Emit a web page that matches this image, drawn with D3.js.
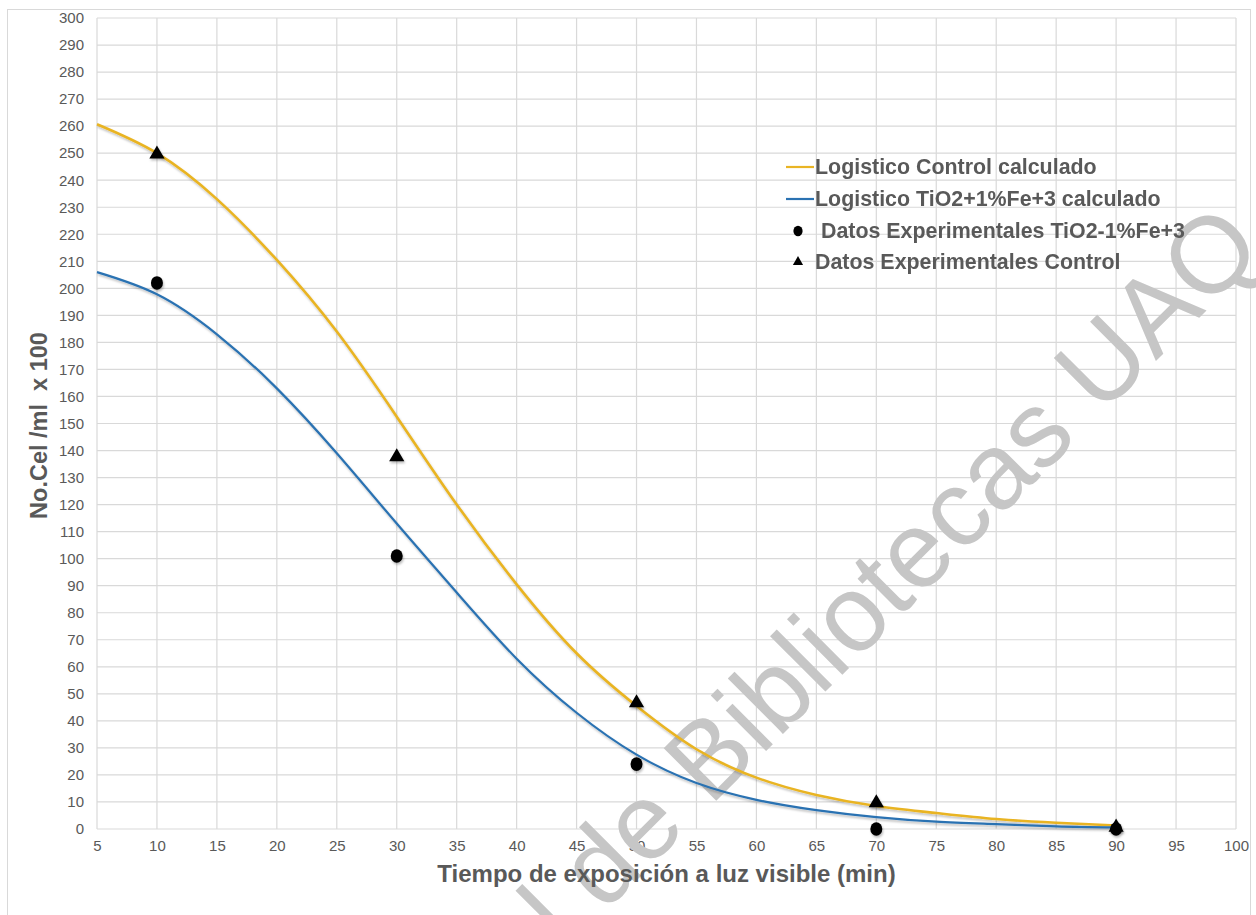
<!DOCTYPE html>
<html>
<head>
<meta charset="utf-8">
<script src="https://cdn.jsdelivr.net/npm/d3@7"></script>
<style>
  body { margin: 0; background: #fff; }
  svg { display: block; font-family: "Liberation Sans", Arial, sans-serif; }
  .tick text { fill: #595959; font-size: 15px; }
  .title { fill: #595959; font-weight: bold; }
  .legend text { fill: #595959; font-weight: bold; font-size: 21.4px; white-space: pre; }
</style>
</head>
<body>
<script>
var curveT = [5, 10, 15, 20, 25, 30, 35, 40, 45, 50, 55, 60, 65, 70, 75, 80, 85, 90];
var controlCalc = [260.7, 250, 233, 210.5, 184, 152.5, 120, 90.5, 65, 45.5, 29.5, 19, 12.6, 8.5, 5.9, 3.7, 2.3, 1.3];
var tioCalc = [206, 197.8, 183, 163, 139, 113, 87.5, 63, 43, 27.5, 17, 10.8, 7, 4.4, 2.7, 1.8, 1.0, 0.6];

// experimental points
var expT = [10, 30, 50, 70, 90];
var controlExp = [250, 138, 47, 10, 1];
var tioExp = [202, 101, 24, 0, 0];

var xTicks = d3.range(5, 101, 5);
var yTicks = d3.range(0, 301, 10);

var legendLabels = ["Logistico Control calculado", "Logistico TiO2+1%Fe+3 calculado",
  " Datos Experimentales TiO2-1%Fe+3", "Datos Experimentales Control"];

var width = 1256, height = 915;
var yellow = "#e9b424", blue = "#2a72b2";

var svg = d3.select("body").append("svg")
    .attr("width", width)
    .attr("height", height);

var defs = svg.append("defs");
var shadow = defs.append("filter").attr("id", "shadow")
    .attr("x", "-20%").attr("y", "-20%").attr("width", "140%").attr("height", "140%");
shadow.append("feDropShadow")
    .attr("dx", 1).attr("dy", 2).attr("stdDeviation", 1.2)
    .attr("flood-color", "#000").attr("flood-opacity", 0.25);

// chart border
svg.append("rect")
    .attr("x", 7.5).attr("y", 9.5)
    .attr("width", 1243).attr("height", 940)
    .attr("fill", "none").attr("stroke", "#d9d9d9");

var x = d3.scaleLinear().domain([5, 100]).range([97, 1236]);
var y = d3.scaleLinear().domain([0, 300]).range([829, 18]);

// grid
svg.append("g").attr("class", "grid")
  .selectAll("line").data(xTicks).enter().append("line")
    .attr("x1", d => x(d)).attr("x2", d => x(d))
    .attr("y1", y(0)).attr("y2", y(300))
    .attr("stroke", "#d9d9d9").attr("stroke-width", 1.2);

svg.append("g").attr("class", "grid")
  .selectAll("line").data(yTicks).enter().append("line")
    .attr("x1", x(5)).attr("x2", x(100))
    .attr("y1", d => y(d)).attr("y2", d => y(d))
    .attr("stroke", "#d9d9d9").attr("stroke-width", 1.2);

var xAxis = g => g
  .attr("transform", `translate(0,${y(0)})`)
  .call(d3.axisBottom(x).tickValues(xTicks).tickSize(0).tickPadding(11))
  .call(g => g.select(".domain").remove());

var yAxis = g => g
  .attr("transform", `translate(${x(5)},0)`)
  .call(d3.axisLeft(y).tickValues(yTicks).tickSize(0).tickPadding(13))
  .call(g => g.select(".domain").remove());

svg.append("g").call(xAxis).selectAll("text").attr("font-family", null);
svg.append("g").call(yAxis).selectAll("text").attr("font-family", null);

// watermark
svg.append("text")
    .attr("transform", "translate(1266,251) rotate(-45)")
    .attr("text-anchor", "end")
    .attr("font-size", 108)
    .attr("fill", "#c6c6c6")
    .text("Dirección General de Bibliotecas UAQ");

var line = d3.line()
    .x((d, i) => x(curveT[i]))
    .y(d => y(d))
    .curve(d3.curveNatural);

svg.append("path").datum(controlCalc)
    .attr("d", line)
    .attr("fill", "none").attr("stroke", yellow).attr("stroke-width", 2.6)
    .attr("filter", "url(#shadow)");

svg.append("path").datum(tioCalc)
    .attr("d", line)
    .attr("fill", "none").attr("stroke", blue).attr("stroke-width", 2.2)
    .attr("filter", "url(#shadow)");

var tri = d3.symbol().type(d3.symbolTriangle).size(100);

svg.append("g").attr("filter", "url(#shadow)")
  .selectAll("ellipse").data(tioExp).enter().append("ellipse")
    .attr("cx", (d, i) => x(expT[i]))
    .attr("cy", d => y(d))
    .attr("rx", 6).attr("ry", 6.8)
    .attr("fill", "#000");

svg.append("g").attr("filter", "url(#shadow)")
  .selectAll("path").data(controlExp).enter().append("path")
    .attr("transform", (d, i) => `translate(${x(expT[i])},${y(d) + 1})`)
    .attr("d", tri)
    .attr("fill", "#000");

// legend
var legend = svg.append("g").attr("class", "legend");
var rowY = [167, 199, 231, 262];

legend.selectAll("text").data(legendLabels).enter().append("text")
    .attr("x", 815)
    .attr("y", (d, i) => rowY[i])
    .attr("dy", "0.35em")
    .text(d => d);

legend.append("line")
    .attr("x1", 786).attr("x2", 814).attr("y1", rowY[0]).attr("y2", rowY[0])
    .attr("stroke", yellow).attr("stroke-width", 2.2);
legend.append("line")
    .attr("x1", 786).attr("x2", 814).attr("y1", rowY[1]).attr("y2", rowY[1])
    .attr("stroke", blue).attr("stroke-width", 2.2);
legend.append("ellipse")
    .attr("cx", 798).attr("cy", rowY[2]).attr("rx", 4.6).attr("ry", 5.2)
    .attr("fill", "#000");
legend.append("path")
    .attr("transform", `translate(798,${rowY[3]})`)
    .attr("d", d3.symbol().type(d3.symbolTriangle).size(45))
    .attr("fill", "#000");

// axis titles
svg.append("text").attr("class", "title")
    .attr("x", (x(5) + x(100)) / 2).attr("y", 882)
    .attr("text-anchor", "middle")
    .attr("font-size", 24)
    .text("Tiempo de exposición a luz visible (min)");

svg.append("text").attr("class", "title")
    .attr("transform", `translate(47,${(y(0) + y(300)) / 2 + 2}) rotate(-90)`)
    .attr("text-anchor", "middle")
    .attr("font-size", 23.5)
    .style("white-space", "pre")
    .text("No.Cel /ml  x 100");
</script>
</body>
</html>
